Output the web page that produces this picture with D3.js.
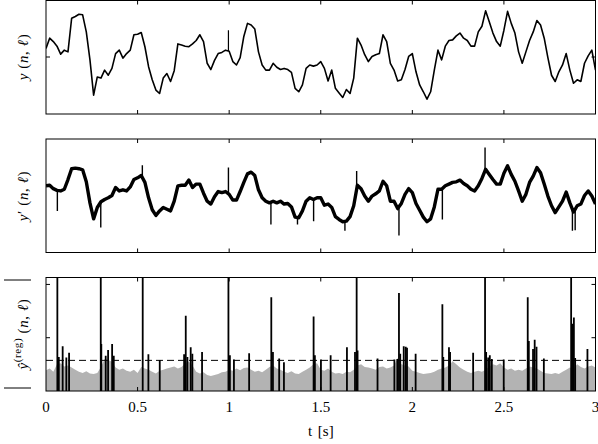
<!DOCTYPE html>
<html>
<head>
<meta charset="utf-8">
<script src="https://d3js.org/d3.v7.min.js"></script>
<style>
  body { margin: 0; background: #fff; }
  text { font-family: "Liberation Serif", "DejaVu Serif", serif; }
</style>
</head>
<body>
<svg id="chart" width="598" height="444"></svg>
<script>
  "use strict";

  // ---- data (one sample every 0.02 s, 0 .. 3 s) ----
  const tStep = 0.02;

  // clean signal y(n, l)
  const yClean = [
    0.15, 0.33, 0.27, 0.19, 0.05, 0.12, 0.09, 0.68, 0.71, 0.75,
    0.74, 0.44, -0.05, -0.67, -0.35, -0.37, -0.23, -0.32, -0.20, 0.06,
    0.12, -0.02, 0.06, 0.12, 0.39, 0.40, 0.43, 0.18, -0.17, -0.40,
    -0.58, -0.64, -0.37, -0.29, -0.43, -0.24, 0.23, 0.21, 0.19, 0.18,
    0.23, 0.29, 0.39, 0.27, -0.11, -0.22, -0.06, 0.06, 0.08, 0.12,
    0.10, -0.08, -0.14, -0.01, 0.36, 0.59, 0.56, 0.49, 0.09, -0.14,
    -0.23, -0.23, -0.11, -0.18, -0.22, -0.20, -0.22, -0.27, -0.55, -0.61,
    -0.49, -0.20, -0.14, -0.16, -0.14, -0.08, -0.20, -0.42, -0.23, -0.55,
    -0.63, -0.71, -0.57, -0.64, -0.37, 0.33, 0.21, 0.04, -0.08, 0.01,
    0.04, 0.06, 0.39, 0.27, -0.11, -0.23, -0.42, -0.40, -0.22, 0.01,
    0.06, -0.26, -0.49, -0.61, -0.74, -0.61, -0.23, 0.12, -0.05, 0.19,
    0.29, 0.30, 0.37, 0.42, 0.33, 0.29, 0.19, 0.19, 0.44, 0.54,
    0.81, 0.62, 0.42, 0.27, 0.19, 0.47, 0.80, 0.59, 0.42, 0.09,
    -0.11, 0.09, 0.29, 0.44, 0.64, 0.56, 0.33, -0.01, -0.32, -0.43,
    -0.26, -0.14, 0.06, -0.23, -0.46, -0.40, -0.43, -0.11, 0.02, 0.12,
    -0.23
  ];
  const cleanSpikeT = [0.996];
  const cleanSpikeV = [0.47];

  // observed signal y'(n, l)
  const yNoisy = [
    0.17, 0.18, 0.12, 0.09, 0.08, 0.11, 0.28, 0.47, 0.48, 0.47,
    0.45, 0.24, -0.13, -0.41, -0.21, -0.11, -0.07, -0.04, 0.00, 0.14,
    0.08, 0.10, 0.08, 0.15, 0.28, 0.31, 0.35, 0.23, -0.04, -0.25,
    -0.35, -0.27, -0.21, -0.24, -0.27, -0.10, 0.17, 0.18, 0.18, 0.27,
    0.14, 0.20, 0.20, 0.04, -0.10, -0.15, -0.02, 0.07, 0.05, 0.07,
    0.02, -0.08, -0.08, 0.07, 0.23, 0.38, 0.41, 0.35, 0.10, -0.04,
    -0.10, -0.13, -0.10, -0.13, -0.10, -0.15, -0.14, -0.20, -0.38, -0.39,
    -0.27, -0.10, -0.04, -0.07, -0.04, -0.04, -0.17, -0.15, -0.21, -0.37,
    -0.42, -0.46, -0.45, -0.37, -0.18, 0.18, 0.12, -0.01, -0.10, -0.01,
    0.03, 0.08, 0.25, 0.17, -0.10, -0.10, -0.23, -0.14, 0.02, 0.12,
    0.05, -0.14, -0.26, -0.38, -0.46, -0.41, -0.20, 0.11, 0.11, 0.17,
    0.20, 0.23, 0.24, 0.27, 0.21, 0.17, 0.11, 0.08, 0.17, 0.30,
    0.46, 0.37, 0.28, 0.20, 0.20, 0.39, 0.52, 0.37, 0.25, 0.08,
    -0.10, 0.02, 0.23, 0.34, 0.49, 0.40, 0.20, -0.01, -0.18, -0.30,
    -0.20, -0.10, 0.06, -0.13, -0.29, -0.18, -0.15, 0.00, 0.08, -0.01,
    -0.15
  ];
  const noisySpikeT = [0.062, 0.299, 0.526, 0.996, 1.228, 1.373, 1.461, 1.632,
                       1.696, 1.927, 2.164, 2.397, 2.874, 2.889];
  const noisySpikeV = [-0.27, -0.56, 0.53, 0.49, -0.51, -0.51, -0.45, -0.62,
                       0.43, -0.70, -0.42, 0.84, -0.62, -0.61];

  // |y_hat_reg(n, l)|: grey background level
  const regFloor = [
    0.39, 0.42, 0.36, 0.50, 0.52, 0.46, 0.48, 0.44, 0.40, 0.36,
    0.34, 0.37, 0.33, 0.32, 0.34, 0.45, 0.60, 0.58, 0.55, 0.44,
    0.40, 0.42, 0.38, 0.36, 0.40, 0.34, 0.45, 0.42, 0.40, 0.36,
    0.33, 0.38, 0.40, 0.42, 0.44, 0.46, 0.42, 0.45, 0.52, 0.55,
    0.48, 0.36, 0.33, 0.35, 0.30, 0.28, 0.30, 0.32, 0.35, 0.36,
    0.40, 0.38, 0.42, 0.39, 0.43, 0.44, 0.40, 0.36, 0.38, 0.35,
    0.40, 0.45, 0.48, 0.42, 0.40, 0.36, 0.34, 0.37, 0.33, 0.32,
    0.36, 0.40, 0.44, 0.50, 0.52, 0.40, 0.38, 0.42, 0.36, 0.33,
    0.34, 0.32, 0.36, 0.35, 0.40, 0.48, 0.50, 0.45, 0.44, 0.42,
    0.40, 0.45, 0.46, 0.42, 0.44, 0.48, 0.62, 0.50, 0.48, 0.46,
    0.38, 0.36, 0.34, 0.32, 0.33, 0.34, 0.36, 0.40, 0.42, 0.44,
    0.48, 0.56, 0.50, 0.44, 0.40, 0.36, 0.34, 0.36, 0.38, 0.36,
    0.40, 0.46, 0.50, 0.48, 0.52, 0.44, 0.40, 0.42, 0.38, 0.40,
    0.38, 0.42, 0.46, 0.44, 0.42, 0.38, 0.34, 0.33, 0.32, 0.34,
    0.32, 0.36, 0.40, 0.44, 0.42, 0.50, 0.45, 0.42, 0.46, 0.48,
    0.44
  ];
  // detected peaks (black)
  const peakT = [
    0.062, 0.070, 0.091, 0.111, 0.126,
    0.299, 0.302, 0.326, 0.339, 0.361, 0.370,
    0.528, 0.559, 0.621,
    0.754, 0.763, 0.772, 0.790, 0.799, 0.852,
    0.996, 1.004, 1.026, 1.109,
    1.230, 1.239, 1.273, 1.299,
    1.461, 1.468, 1.501, 1.554,
    1.643, 1.687, 1.696, 1.701, 1.810,
    1.902, 1.918, 1.927, 1.934, 1.953, 1.964, 1.971, 2.018,
    2.164, 2.169, 2.200, 2.206, 2.332,
    2.397, 2.403, 2.414, 2.423, 2.434, 2.499,
    2.630, 2.636, 2.659, 2.668, 2.678, 2.718,
    2.867, 2.874, 2.882, 2.889, 2.956
  ];
  const peakV = [
    2.5, 0.64, 0.84, 0.63, 0.72,
    2.5, 0.88, 0.66, 0.77, 0.88, 0.66,
    2.5, 0.69, 0.58,
    0.69, 1.41, 0.64, 0.82, 0.70, 0.73,
    2.5, 0.67, 0.59, 0.71,
    1.76, 0.73, 0.61, 0.54,
    1.40, 0.67, 0.59, 0.67,
    0.82, 0.73, 2.5, 0.76, 0.61,
    0.59, 0.60, 1.84, 0.70, 0.84, 0.83, 0.81, 0.70,
    1.63, 0.64, 0.82, 0.73, 0.72,
    2.5, 0.73, 0.63, 0.67, 0.60, 0.59,
    1.76, 0.94, 0.79, 0.96, 0.83, 0.61,
    2.5, 1.26, 1.38, 0.62, 0.79
  ];
  const threshold = 0.575;

  const xTicks = [0, 0.5, 1, 1.5, 2, 2.5, 3];
  const xTickLabels = ["0", "0.5", "1", "1.5", "2", "2.5", "3"];

  // ---- layout ----
  const LEFT = 46, RIGHT = 595.5;
  const P1 = { top: 0.5, bottom: 114 };
  const P2 = { top: 139, bottom: 252.5 };
  const P3 = { top: 277.5, bottom: 391 };

  const svg = d3.select("#chart");

  const x = d3.scaleLinear().domain([0, 3]).range([LEFT, RIGHT]);
  const y1 = d3.scaleLinear().domain([-1, 1]).range([114, 0]);
  const y2 = d3.scaleLinear().domain([-1, 1]).range([252.5, 138.5]);
  const y3 = d3.scaleLinear().domain([0, 2.13]).range([P3.bottom, P3.top]);

  const sampleT = yClean.map((d, i) => i * tStep);

  // clip each panel
  const defs = svg.append("defs");
  [P1, P2, P3].forEach((p, i) => {
    defs.append("clipPath").attr("id", "clip" + i)
      .append("rect")
      .attr("x", LEFT).attr("y", p.top)
      .attr("width", RIGHT - LEFT).attr("height", p.bottom - p.top);
  });

  // value of a sampled series at time t (for the foot of spikes)
  const valueAt = (arr, t) => {
    const k = Math.min(Math.floor(t / tStep), arr.length - 2);
    const f = t / tStep - k;
    return arr[k] * (1 - f) + arr[k + 1] * f;
  };

  // Panel 1
  const g1 = svg.append("g").attr("clip-path", "url(#clip0)");
  g1.append("path")
    .datum(yClean)
    .attr("fill", "none")
    .attr("stroke", "#000")
    .attr("stroke-width", 1.6)
    .attr("stroke-linejoin", "round")
    .attr("d", d3.line().x((d, i) => x(sampleT[i])).y(d => y1(d)));
  g1.selectAll(".spk1")
    .data(cleanSpikeT)
    .enter().append("line")
    .attr("x1", d => x(d)).attr("x2", d => x(d))
    .attr("y1", d => y1(valueAt(yClean, d)))
    .attr("y2", (d, i) => y1(cleanSpikeV[i]))
    .attr("stroke", "#000").attr("stroke-width", 1.2);

  // Panel 2
  const g2 = svg.append("g").attr("clip-path", "url(#clip1)");
  g2.append("path")
    .datum(yNoisy)
    .attr("fill", "none")
    .attr("stroke", "#000")
    .attr("stroke-width", 3.4)
    .attr("stroke-linejoin", "round")
    .attr("d", d3.line().x((d, i) => x(sampleT[i])).y(d => y2(d)));
  g2.selectAll(".spk2")
    .data(noisySpikeT)
    .enter().append("line")
    .attr("x1", d => x(d)).attr("x2", d => x(d))
    .attr("y1", d => y2(valueAt(yNoisy, d)))
    .attr("y2", (d, i) => y2(noisySpikeV[i]))
    .attr("stroke", "#000").attr("stroke-width", 1.4);

  // Panel 3
  const g3 = svg.append("g").attr("clip-path", "url(#clip2)");
  g3.append("path")
    .datum(regFloor)
    .attr("fill", "#b3b3b3")
    .attr("d", d3.area()
      .x((d, i) => x(sampleT[i]))
      .y0(y3(0))
      .y1(d => y3(d)));
  g3.append("line")
    .attr("x1", x(0)).attr("x2", x(3))
    .attr("y1", y3(threshold)).attr("y2", y3(threshold))
    .attr("stroke", "#000").attr("stroke-width", 1)
    .attr("stroke-dasharray", "7,4");
  g3.selectAll(".peak")
    .data(peakT)
    .enter().append("line")
    .attr("x1", d => x(d)).attr("x2", d => x(d))
    .attr("y1", y3(0))
    .attr("y2", (d, i) => y3(peakV[i]))
    .attr("stroke", "#000").attr("stroke-width", 1.8);

  // frames and inward ticks
  function frame(p, yScale, yTicks) {
    const g = svg.append("g");
    g.append("rect")
      .attr("x", LEFT).attr("y", p.top)
      .attr("width", RIGHT - LEFT).attr("height", p.bottom - p.top)
      .attr("fill", "none").attr("stroke", "#000").attr("stroke-width", 1);
    const inner = xTicks.slice(1, -1);
    g.selectAll(".tb").data(inner).enter().append("line")
      .attr("x1", d => x(d)).attr("x2", d => x(d))
      .attr("y1", p.bottom).attr("y2", p.bottom - 4)
      .attr("stroke", "#000");
    g.selectAll(".tt").data(inner).enter().append("line")
      .attr("x1", d => x(d)).attr("x2", d => x(d))
      .attr("y1", p.top).attr("y2", p.top + 4)
      .attr("stroke", "#000");
    g.selectAll(".tl").data(yTicks).enter().append("line")
      .attr("x1", LEFT).attr("x2", LEFT + 4)
      .attr("y1", d => yScale(d)).attr("y2", d => yScale(d))
      .attr("stroke", "#000");
    g.selectAll(".tr").data(yTicks).enter().append("line")
      .attr("x1", RIGHT).attr("x2", RIGHT - 4)
      .attr("y1", d => yScale(d)).attr("y2", d => yScale(d))
      .attr("stroke", "#000");
  }
  frame(P1, y1, [0]);
  frame(P2, y2, []);
  frame(P3, y3, [1, 2]);

  // x tick labels
  svg.selectAll(".xl")
    .data(xTicks)
    .enter().append("text")
    .attr("x", d => x(d))
    .attr("y", 411.5)
    .attr("text-anchor", "middle")
    .attr("font-size", 15)
    .text((d, i) => xTickLabels[i]);

  svg.append("text")
    .attr("x", x(1.5))
    .attr("y", 436)
    .attr("text-anchor", "middle")
    .attr("font-size", 15)
    .attr("word-spacing", 2)
    .text("t [s]");

  // y labels (rotated)
  function yLabel(cy, parts) {
    const t = svg.append("text")
      .attr("transform", `translate(28,${cy}) rotate(-90)`)
      .attr("text-anchor", "middle")
      .attr("font-size", 15)
      .attr("letter-spacing", 0.6);
    parts.forEach(p => {
      const s = t.append("tspan").text(p[0]);
      if (p[1]) s.attr("font-style", "italic");
    });
    return t;
  }
  yLabel(57, [["y", true], [" (", false], ["n", true], [", ", false], ["\u2113", true], [")", false]]);
  yLabel(196, [["y", true], ["\u2032", false], [" (", false], ["n", true], [", ", false], ["\u2113", true], [")", false]]);

  // third label: |y_hat^(reg) (n, l)|
  const lab3 = svg.append("g").attr("transform", "translate(28,334) rotate(-90)");
  const t3 = lab3.append("text")
    .attr("x", 0).attr("y", 0)
    .attr("text-anchor", "middle")
    .attr("font-size", 15)
    .attr("letter-spacing", 0.6);
  t3.append("tspan").attr("font-style", "italic").text("\u0177");
  t3.append("tspan").attr("font-size", 11).attr("dy", -7).text("(reg)");
  t3.append("tspan").attr("dy", 7).text(" (");
  t3.append("tspan").attr("font-style", "italic").text("n");
  t3.append("tspan").text(", ");
  t3.append("tspan").attr("font-style", "italic").text("\u2113");
  t3.append("tspan").text(")");
  [-54, 54].forEach(d => {
    lab3.append("line")
      .attr("x1", d).attr("x2", d)
      .attr("y1", -24).attr("y2", 3)
      .attr("stroke", "#000").attr("stroke-width", 1);
  });
</script>
</body>
</html>
